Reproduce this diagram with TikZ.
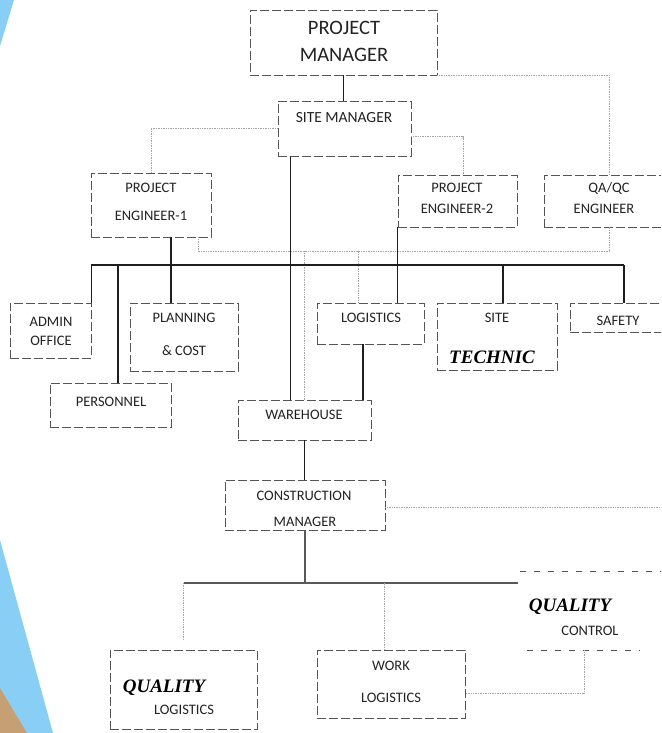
\documentclass[tikz,border=0pt]{standalone}
\usepackage{fontspec}
\setmainfont{Carlito}
\newfontfamily\tnr{Liberation Serif}
\usetikzlibrary{calc}
\definecolor{skyb}{RGB}{137,207,245}
\definecolor{tanc}{RGB}{198,160,116}
\definecolor{txtc}{RGB}{35,35,35}
\definecolor{boxc}{RGB}{85,85,85}
\definecolor{grayl}{RGB}{165,165,165}
\definecolor{solidc}{RGB}{30,30,30}
\begin{document}
\begin{tikzpicture}[x=1pt,y=-1pt,
  box/.style={draw=boxc, line width=0.65pt, dash pattern=on 9pt off 3pt, inner sep=0pt},
  boxedge/.style={draw=boxc, line width=0.65pt, dash pattern=on 6pt off 8pt},
  lbl/.style={font=\fontsize{14.5}{16}\selectfont, text=txtc, inner sep=0pt},
  big/.style={font=\fontsize{20.5}{22}\selectfont},
  bi/.style={font=\tnr\bfseries\itshape\fontsize{19}{21}\selectfont, text=black, inner sep=0pt},
  sline/.style={draw=solidc, line width=1.2pt},
  sline2/.style={draw=black!65, line width=1.6pt},
  gline/.style={draw=grayl, line width=0.9pt, dash pattern=on 1pt off 0.7pt}]
\useasboundingbox (0,0) rectangle (661,733);
\clip (0,0) rectangle (661,733);
\fill[white] (0,0) rectangle (661,733);
% slide decoration
\fill[skyb] (0,0) -- (14,0) -- (0,46) -- cycle;
\fill[skyb] (0,540) -- (53,733) -- (0,733) -- cycle;
\fill[tanc] (0,688) -- (27,733) -- (0,733) -- cycle;

% boxes
\node[box, minimum width=187pt, minimum height=65pt] (pm) at (343.5,42.5) {};
\node[box, minimum width=133pt, minimum height=55pt] (sm) at (344.5,128.5) {};
\node[box, minimum width=120pt, minimum height=64pt] (pe1) at (151,205) {};
\node[box, minimum width=119pt, minimum height=52pt] (pe2) at (457.5,201) {};
\node[box, minimum width=126pt, minimum height=52pt] (qa) at (607,201) {};
\node[box, minimum width=81pt, minimum height=55pt] (adm) at (50.5,330.5) {};
\node[box, minimum width=108pt, minimum height=68pt] (pl) at (184,337) {};
\node[box, minimum width=107pt, minimum height=41pt] (lg) at (370.5,323.5) {};
\node[box, minimum width=120pt, minimum height=67pt] (site) at (497,336.5) {};
\node[box, minimum width=108pt, minimum height=29pt] (saf) at (624,317.5) {};
\node[box, minimum width=121pt, minimum height=44pt] (pers) at (110.5,405) {};
\node[box, minimum width=133pt, minimum height=40pt] (wh) at (304.5,420) {};
\node[box, minimum width=160pt, minimum height=50pt] (cm) at (305,505) {};
\node[box, minimum width=147pt, minimum height=79pt] (ql) at (183.5,689.5) {};
\node[box, minimum width=148pt, minimum height=68pt] (wl) at (391,684) {};
\node[inner sep=0pt, minimum width=160pt, minimum height=78pt] (qc) at (600,611) {};
\draw[boxedge] (qc.north west) -- (qc.north east);
\draw[boxedge] ($(qc.south west)+(7,0)$) -- ($(qc.south east)+(-40,0)$);

% texts
\node[lbl,big] (tpm1) at (344,28) {PROJECT};
\node[lbl,big] (tpm2) at (344,55) {MANAGER};
\node[lbl,font=\fontsize{15.5}{17}\selectfont] (tsm) at (344,118) {SITE MANAGER};
\node[lbl] (tpe1a) at (151,188) {PROJECT};
\node[lbl] (tpe1b) at (151,216) {ENGINEER-1};
\node[lbl] (tpe2a) at (457,188) {PROJECT};
\node[lbl] (tpe2b) at (457,209) {ENGINEER-2};
\node[lbl] (tqa1) at (609,188) {QA/QC};
\node[lbl] (tqa2) at (604,209) {ENGINEER};
\node[lbl] (tadm1) at (51,322) {ADMIN};
\node[lbl] (tadm2) at (51,341) {OFFICE};
\node[lbl] (tpl1) at (184,318) {PLANNING};
\node[lbl] (tpl2) at (184,351) {\& COST};
\node[lbl] (tlg) at (371,318) {LOGISTICS};
\node[lbl] (tsite) at (497,318) {SITE};
\node[bi] (ttech) at (492,357) {TECHNIC};
\node[lbl] (tsaf) at (618,321) {SAFETY};
\node[lbl] (tpers) at (111,402) {PERSONNEL};
\node[lbl] (twh) at (304,415) {WAREHOUSE};
\node[lbl] (tcm1) at (304,496) {CONSTRUCTION};
\node[lbl] (tcm2) at (305,522) {MANAGER};
\node[bi] (tql1) at (164,688) {QUALITY};
\node[lbl] (tql2) at (184,710) {LOGISTICS};
\node[lbl] (twl1) at (391,666) {WORK};
\node[lbl] (twl2) at (391,698) {LOGISTICS};
\node[bi] (tqc1) at (570,607) {QUALITY};
\node[lbl] (tqc2) at (590,631) {CONTROL};

% helper coordinates
\coordinate (bus) at (0,265);
\coordinate (bus2) at (0,583);
\coordinate (edge) at (661,0);

% connectors
\draw[sline] (pm.south) -- (pm.south |- sm.north);
\draw[gline] (pm.south east) -| ($(qa.north)+(2,0)$);
\draw[gline] (sm.west) -| (pe1.north);
\draw[gline] ($(sm.east)+(0,8)$) -| ($(pe2.north)+(5.5,0)$);
\draw[sline] ($(sm.south west)+(13,0)$) coordinate (a1) -- (a1 |- wh.north);
\draw[sline] ($(pe1.south)+(20,0)$) coordinate (a2) -- (a2 |- pl.north);
\draw[gline] ($(pe1.south)+(47,0)$) -- ++(0,14) coordinate (g0) -| ($(qa.south)+(2,0)$);
\draw[gline] (g0 -| wh.north) -- (wh.north);
\draw[gline] ($(lg.north)+(-12.5,0)$) coordinate (a3) -- (a3 |- g0);
\draw[sline] (adm.north east |- bus) -- (saf.north |- bus);
\draw[sline] (adm.north east |- bus) -- (adm.north east);
\draw[sline] ($(pers.north)+(7.5,0)$) coordinate (a4) -- (a4 |- bus);
\draw[sline] ($(site.north)+(6,0)$) coordinate (a5) -- (a5 |- bus);
\draw[sline] (saf.north) -- (saf.north |- bus);
\draw[sline] (pe2.south west) -- (pe2.south west |- lg.north);
\draw[sline] ($(lg.south)+(-7.5,0)$) coordinate (a6) -- (a6 |- wh.north);
\draw[sline] (wh.south) -- (wh.south |- cm.north);
\draw[gline] ($(cm.east)+(0,2)$) coordinate (a9) -- (a9 -| edge);
\draw[sline2] (cm.south) -- (cm.south |- bus2);
\draw[sline2] (ql.north |- bus2) -- ($(qc.north west |- bus2)+(-2,0)$);
\draw[gline] (ql.north |- bus2) -- ($(ql.north)+(0,-10)$);
\draw[gline] ($(wl.north)+(-7,0)$) coordinate (a7) -- (a7 |- bus2);
\draw[gline] ($(qc.south)+(-16,0)$) coordinate (a8) |- ($(wl.east)+(0,9)$);
\end{tikzpicture}
\end{document}
